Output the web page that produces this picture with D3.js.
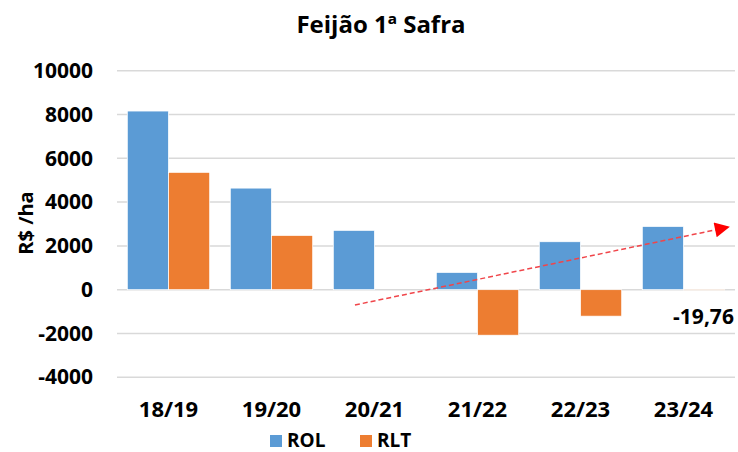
<!DOCTYPE html>
<html><head><meta charset="utf-8">
<script src="https://cdn.jsdelivr.net/npm/d3@7"></script>
<style>body{margin:0;background:#fff}svg{display:block}</style>
</head><body>
<svg id="c" width="738" height="452"></svg>
<script>
const categories = ["18/19","19/20","20/21","21/22","22/23","23/24"];
const seriesNames = ["ROL","RLT"];
const rol = [8160, 4640, 2710, 790, 2190, 2890];
const rlt = [5360, 2480, null, -2080, -1210, -19.76];
const yTicks = [-4000,-2000,0,2000,4000,6000,8000,10000];
const trendStart = {idx: 1.81, value: -700};
const trendEnd = {idx: 5.45, value: 2870};
const annotation = {idx: 5, value: -1300, text: "-19,76"};
const colors = ["#5B9BD5", "#ED7D31"];

const svg = d3.select("#c");
const font = "'Open Sans', 'Liberation Sans', sans-serif";
const pLeft = 117, pRight = 735, pTop = 70.75, pBottom = 377.25;

const x = d3.scaleBand().domain(categories).range([pLeft, pRight]).paddingInner(0.2).paddingOuter(0.1);
const xi = d3.scaleLinear().domain([0, 1]).range([x(categories[0]) + x.bandwidth()/2, x(categories[1]) + x.bandwidth()/2]);
const xs = d3.scaleBand().domain(seriesNames).range([0, x.bandwidth()]);
const y = d3.scaleLinear().domain([-4000, 10000]).range([pBottom, pTop]);

// gridlines
svg.append("g").selectAll("line").data(yTicks).join("line")
  .attr("x1", pLeft).attr("x2", pRight)
  .attr("y1", d => y(d)).attr("y2", d => y(d))
  .attr("stroke", "#D9D9D9").attr("stroke-width", 1.5);

// y axis labels
const yAxis = d3.axisLeft(y).tickValues(yTicks).tickSize(0).tickPadding(0).tickFormat(d => String(d));
const ga = svg.append("g").attr("transform", `translate(${93},0)`).call(yAxis);
ga.select(".domain").remove();
ga.selectAll("text").attr("font-family", font).attr("font-weight", "bold").attr("font-size", 21).attr("fill", "#000");

// x axis labels
const xAxis = d3.axisBottom(x).tickSize(0).tickPadding(0);
const gx = svg.append("g").attr("transform", `translate(0,${401})`).call(xAxis);
gx.select(".domain").remove();
gx.selectAll("text").attr("font-family", font).attr("font-weight", "bold").attr("font-size", 22).attr("fill", "#000");

// bars
const series = [rol, rlt];
series.forEach((vals, si) => {
  svg.append("g").selectAll("rect")
    .data(vals.map((v, i) => ({cat: categories[i], v})).filter(d => d.v !== null))
    .join("rect")
    .attr("x", d => x(d.cat) + xs(seriesNames[si]))
    .attr("width", xs.bandwidth())
    .attr("y", d => y(Math.max(0, d.v)))
    .attr("height", d => Math.abs(y(d.v) - y(0)))
    .attr("fill", colors[si])
    .attr("stroke", "#fff").attr("stroke-width", 0.75);
});

// trend arrow
const defs = svg.append("defs");
defs.append("marker").attr("id", "ah").attr("viewBox", "0 0 10 10").attr("refX", 10).attr("refY", 5)
  .attr("markerWidth", 17).attr("markerHeight", 15).attr("markerUnits", "userSpaceOnUse").attr("orient", "auto")
  .append("path").attr("d", "M0,0 L10,5 L0,10 Z").attr("fill", "#FF0000");
svg.append("line")
  .attr("x1", xi(trendStart.idx)).attr("y1", y(trendStart.value))
  .attr("x2", xi(trendEnd.idx)).attr("y2", y(trendEnd.value))
  .attr("stroke", "#F0454A").attr("stroke-width", 1.5).attr("stroke-dasharray", "5,3")
  .attr("marker-end", "url(#ah)");

// annotation
svg.append("text").attr("x", xi(annotation.idx) + 20).attr("y", y(annotation.value))
  .attr("text-anchor", "middle").attr("dominant-baseline", "middle")
  .attr("font-family", font).attr("font-weight", "bold").attr("font-size", 21).text(annotation.text);

// y title
svg.append("text").attr("transform", `translate(33,${223}) rotate(-90)`)
  .attr("text-anchor", "middle").attr("font-family", font).attr("font-weight", "bold").attr("font-size", 20).text("R$ /ha");

// title
svg.append("text").attr("x", 381).attr("y", 33).attr("text-anchor", "middle")
  .attr("font-family", font).attr("font-weight", "bold").attr("font-size", 24).text("Feijão 1ª Safra");

// legend
const leg = svg.append("g");
const legX = [270, 360];
seriesNames.forEach((n, i) => {
  leg.append("rect").attr("x", legX[i]).attr("y", 435).attr("width", 12).attr("height", 12).attr("fill", colors[i]);
  leg.append("text").attr("x", legX[i] + 17).attr("y", 447)
    .attr("font-family", font).attr("font-weight", "bold").attr("font-size", 19).text(n);
});
</script>
</body></html>
